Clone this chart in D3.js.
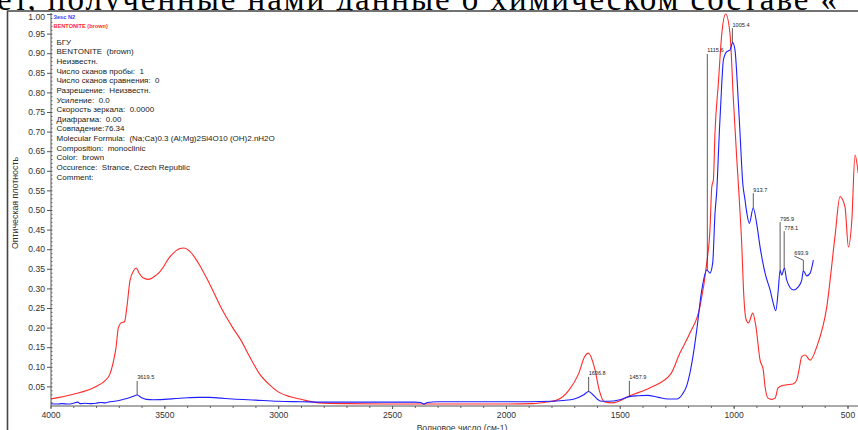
<!DOCTYPE html>
<html><head><meta charset="utf-8">
<script src="https://cdn.jsdelivr.net/npm/d3@7"></script>
<style>
html,body{margin:0;padding:0;background:#fff;overflow:hidden;}
svg{display:block;}
</style></head>
<body>
<svg id="chart" width="858" height="430"></svg>
<script>
// ---------- DATA ----------
// Red reference spectrum: BENTONITE (brown)
const redWn = [4000,3900,3800,3760,3740,3725,3712,3702,3690,3675,3665,3651,3635,3624,3610,3594,3571,3540,3519,3475,3431,3415,3387,3351,3300,3250,3200,3164,3120,3082,3040,3000,2950,2900,2820,2700,2500,2200,2000,1880,1820,1776,1724,1681,1655,1638,1612,1590,1569,1534,1448,1362,1276,1236,1192,1148,1118,1104,1096,1089,1082,1067,1052,1035,1016,1001,986,975,964,957,945,935,916,902,884,870,862,849,833,818,805,787,767,739,723,713,701,686,664,635,591,555,533,511,496,481,467,453];
const redAbs = [0.018,0.03,0.05,0.065,0.08,0.11,0.15,0.20,0.212,0.215,0.25,0.32,0.345,0.352,0.338,0.327,0.323,0.332,0.343,0.381,0.402,0.403,0.394,0.365,0.31,0.25,0.2,0.168,0.12,0.082,0.055,0.036,0.024,0.017,0.008,0.006,0.005,0.005,0.005,0.006,0.01,0.015,0.04,0.082,0.125,0.135,0.1,0.04,0.011,0.008,0.028,0.048,0.082,0.135,0.186,0.253,0.365,0.449,0.559,0.577,0.696,0.824,0.95,1.0,0.95,0.78,0.628,0.525,0.406,0.3,0.22,0.212,0.237,0.202,0.117,0.092,0.049,0.02,0.017,0.02,0.046,0.052,0.054,0.056,0.066,0.092,0.126,0.13,0.117,0.151,0.253,0.432,0.534,0.508,0.406,0.474,0.64,0.594];

// Blue sample spectrum: Зesc N2
const blueWn = [4000,3970,3950,3920,3900,3880,3870,3850,3820,3800,3780,3760,3740,3720,3700,3680,3660,3640,3619.5,3600,3580,3550,3500,3450,3400,3350,3300,3250,3200,3100,3000,2900,2800,2700,2500,2400,2375,2360,2345,2300,2000,1900,1800,1750,1700,1660,1636.8,1620,1600,1580,1550,1500,1457.9,1420,1380,1330,1290,1250,1225,1207,1192,1175,1162,1140,1118,1104,1092,1082,1074,1063,1052,1045,1030,1016,1004,994,984,972,960,950,942,931,914,899,884,862,840,826,815,804,796,789,777,767,738,716,701,694,679,664,650];
const blueAbs = [0.006,0.005,0.006,0.005,0.007,0.01,0.006,0.007,0.006,0.007,0.009,0.008,0.011,0.012,0.014,0.017,0.02,0.024,0.028,0.021,0.017,0.016,0.017,0.019,0.021,0.022,0.022,0.02,0.018,0.015,0.012,0.011,0.01,0.01,0.01,0.01,0.009,0.005,0.009,0.011,0.011,0.011,0.012,0.014,0.018,0.028,0.037,0.03,0.018,0.012,0.012,0.016,0.024,0.026,0.027,0.022,0.018,0.018,0.03,0.05,0.084,0.14,0.194,0.296,0.347,0.339,0.365,0.49,0.55,0.696,0.824,0.883,0.904,0.908,0.927,0.908,0.824,0.696,0.569,0.526,0.492,0.466,0.505,0.466,0.406,0.339,0.296,0.262,0.243,0.296,0.347,0.334,0.352,0.321,0.296,0.304,0.321,0.345,0.332,0.339,0.372];

// Peak annotations on the blue spectrum
const peakWn = [3619.5,1636.8,1457.9,1115.6,1005.4,913.7,795.9,778.1,693.9];
const peakAbs = [0.028,0.037,0.024,0.347,0.927,0.505,0.347,0.352,0.345];
const peakLabelAbs = [0.064,0.074,0.064,0.898,0.964,0.543,0.469,0.446,0.372];

// Axis ticks
const xMajorTicks = [4000,3500,3000,2500,2000,1500,1000,500];
const xMinorTicks = d3.range(4000, 399, -100);
const yMajorTicks = d3.range(1, 21).map(i => +(i * 0.05).toFixed(2));
const yMinorTicks = d3.range(1, 101).map(i => +(i * 0.01).toFixed(2));

// Texts
const legendNames = ["Зesc N2", "BENTONITE  (brown)"];
const infoLines = [
  "БГУ",
  "BENTONITE  (brown)",
  "Неизвестн.",
  "Число сканов пробы:  1",
  "Число сканов сравнения:  0",
  "Разрешение:  Неизвестн.",
  "Усиление:  0.0",
  "Скорость зеркала:  0.0000",
  "Диафрагма:  0.00",
  "Совпадение:76.34",
  "Molecular Formula:  (Na;Ca)0.3 (Al;Mg)2Si4O10 (OH)2.nH2O",
  "Composition:  monoclinic",
  "Color:  brown",
  "Occurence:  Strance, Czech Republic",
  "Comment:"
];
const topText = "ет, полученные нами данные о химическом составе «";
const xTitle = "Волновое число (см-1)";
const yTitle = "Оптическая плотность";

// ---------- DRAW ----------
const svg = d3.select("#chart");
const W = 858, H = 430;
const x = d3.scaleLinear().domain([4000, 500]).range([50.5, 847.5]);
const y = d3.scaleLinear().domain([0, 1]).range([406, 14]);
const sans = "Arial, 'Liberation Sans', sans-serif";

// document text above the figure (clipped by the figure)
svg.append("text")
  .attr("x", -3).attr("y", 10)
  .attr("font-family", "'Liberation Serif', 'Times New Roman', serif")
  .attr("font-size", 33).attr("fill", "#000")
  .attr("textLength", 840).attr("lengthAdjust", "spacing")
  .text(topText);

// white figure area + frame
svg.append("rect").attr("x", 7.5).attr("y", 11).attr("width", W).attr("height", H).attr("fill", "#fff");
svg.append("path").attr("d", `M7.5,${H} V11 H${W}`).attr("fill", "none").attr("stroke", "#444").attr("stroke-width", 1.6);

// clip
svg.append("clipPath").attr("id", "plotclip").append("rect")
  .attr("x", 51).attr("y", 0).attr("width", W - 51).attr("height", 406);

// Y axis
const yAxisG = svg.append("g").attr("transform", "translate(51,0)");
yAxisG.call(d3.axisLeft(y).tickValues(yMajorTicks).tickFormat(d3.format(".2f")).tickSize(4).tickPadding(2));
yAxisG.select(".domain").remove();
yAxisG.selectAll(".tick line").attr("stroke", "#555");
yAxisG.selectAll(".tick text").attr("font-family", sans).attr("font-size", 8.6).attr("fill", "#333")
  .attr("dy", d => d === 1 ? "0.62em" : "0.32em");
const yMinorG = svg.append("g").attr("transform", "translate(51,0)");
yMinorG.call(d3.axisRight(y).tickValues(yMinorTicks).tickSize(1.5).tickFormat(""));
yMinorG.select(".domain").remove();
yMinorG.selectAll(".tick line").attr("stroke", "#666");
svg.append("line").attr("x1", 51).attr("x2", 51).attr("y1", 13).attr("y2", 406).attr("stroke", "#555");

// X axis
const xAxisG = svg.append("g").attr("transform", "translate(0,406)");
xAxisG.call(d3.axisBottom(x).tickValues(xMajorTicks).tickFormat(d3.format("d")).tickSize(3).tickPadding(3));
xAxisG.select(".domain").remove();
xAxisG.selectAll(".tick line").attr("stroke", "#555");
xAxisG.selectAll(".tick text").attr("font-family", sans).attr("font-size", 8.6).attr("fill", "#333");
const xMinorG = svg.append("g").attr("transform", "translate(0,406)");
xMinorG.call(d3.axisBottom(x).tickValues(xMinorTicks).tickSize(2).tickFormat(""));
xMinorG.select(".domain").remove();
xMinorG.selectAll(".tick line").attr("stroke", "#666");
svg.append("line").attr("x1", 51).attr("x2", W).attr("y1", 406).attr("y2", 406).attr("stroke", "#555");

// axis titles
svg.append("text").attr("x", 462).attr("y", 431).attr("text-anchor", "middle")
  .attr("font-family", sans).attr("font-size", 8.6).attr("fill", "#333").text(xTitle);
svg.append("text").attr("transform", "translate(18,203) rotate(-90)").attr("text-anchor", "middle")
  .attr("font-family", sans).attr("font-size", 8.8).attr("fill", "#333").text(yTitle);

// spectra
const line = d3.line().x(d => x(d[0])).y(d => y(d[1])).curve(d3.curveMonotoneX);
const plot = svg.append("g").attr("clip-path", "url(#plotclip)");
plot.append("path").datum(redWn.map((w, i) => [w, redAbs[i]]))
  .attr("d", line).attr("fill", "none").attr("stroke", "#ff2a2a").attr("stroke-width", 1.1);
plot.append("path").datum(blueWn.map((w, i) => [w, blueAbs[i]]))
  .attr("d", line).attr("fill", "none").attr("stroke", "#1e1eff").attr("stroke-width", 1.1);

// peak annotations
const ann = svg.append("g");
peakWn.forEach((w, i) => {
  const px = x(w);
  const isLast = i === peakWn.length - 1;
  const ty = y(peakLabelAbs[i]);
  if (isLast) {
    ann.append("path").attr("d", `M${px - 9},${ty - 4} L${px},${ty} V${y(peakAbs[i])}`)
      .attr("fill", "none").attr("stroke", "#333").attr("stroke-width", 0.8);
    ann.append("text").attr("x", px - 9).attr("y", ty - 5).attr("font-family", sans)
      .attr("font-size", 5.6).attr("fill", "#222").text(w.toFixed(1));
  } else {
    ann.append("line").attr("x1", px).attr("x2", px).attr("y1", ty).attr("y2", y(peakAbs[i]))
      .attr("stroke", "#333").attr("stroke-width", 0.8);
    ann.append("text").attr("x", px).attr("y", ty - 1.5).attr("font-family", sans)
      .attr("font-size", 5.6).attr("fill", "#222").text(w.toFixed(1));
  }
});

// legend
const legendColors = ["#3a3aff", "#ff2a2a"];
legendNames.forEach((n, i) => {
  svg.append("text").attr("x", 53.5).attr("y", 18.5 + i * 9.3)
    .attr("font-family", sans).attr("font-size", 5.6).attr("font-weight", "bold")
    .attr("fill", legendColors[i]).text(n);
});

// info block
infoLines.forEach((t, i) => {
  svg.append("text").attr("x", 56.5).attr("y", 44.6 + i * 9.65)
    .attr("font-family", sans).attr("font-size", 8).attr("fill", "#222")
    .style("white-space", "pre").text(t);
});
</script>
</body></html>
